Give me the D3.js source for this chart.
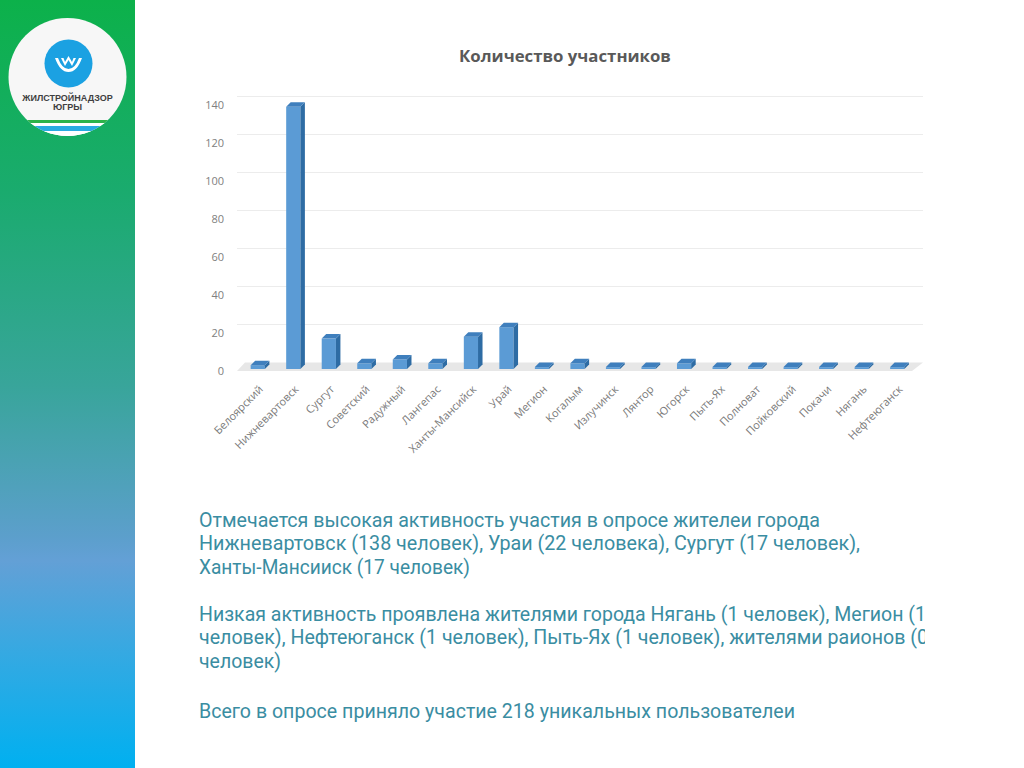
<!DOCTYPE html>
<html>
<head>
<meta charset="utf-8">
<script src="https://cdn.jsdelivr.net/npm/d3@7"></script>
<style>
html,body{margin:0;padding:0;background:#fff;}
svg{display:block;}
</style>
</head>
<body>
<svg id="c" width="1024" height="768"></svg>
<script>
// ---- data ----
const chartTitle = "Количество участников";
const categories = ["Белоярский","Нижневартовск","Сургут","Советский","Радужный","Лангепас","Ханты-Мансийск","Урай","Мегион","Когалым","Излучинск","Лянтор","Югорск","Пыть-Ях","Полноват","Пойковский","Покачи","Нягань","Нефтеюганск"];
const values = [2,138,16,3,5,3,17,22,1,3,1,1,3,1,1,1,1,1,1];
const yTicks = [0,20,40,60,80,100,120,140];
const para1 = ["Отмечается высокая активность участия в опросе жителеи города",
               "Нижневартовск (138 человек), Ураи (22 человека), Сургут (17 человек),",
               "Ханты-Мансииск (17 человек)"];
const para2 = ["Низкая активность проявлена жителями города Нягань (1 человек), Мегион (1",
               "человек), Нефтеюганск (1 человек), Пыть-Ях (1 человек), жителями раионов (0",
               "человек)"];
const para3 = ["Всего в опросе приняло участие 218 уникальных пользователеи"];
const logoLines = ["ЖИЛСТРОЙНАДЗОР","ЮГРЫ"];

const svg = d3.select("#c");
const defs = svg.append("defs");

// ---- left gradient panel ----
const lg = defs.append("linearGradient").attr("id","side").attr("x1",0).attr("y1",0).attr("x2",0).attr("y2",1);
[[0,"#0cb14a"],[0.25,"#1aab6e"],[0.5,"#38a59a"],[0.7,"#5c9fcc"],[0.73,"#63a0d6"],[0.85,"#35a9e2"],[1,"#00b0f0"]]
  .forEach(s=>lg.append("stop").attr("offset",s[0]).attr("stop-color",s[1]));
svg.append("rect").attr("x",0).attr("y",0).attr("width",135).attr("height",768).attr("fill","url(#side)");

// ---- logo ----
const cx=67.5, cy=77, r=59;
defs.append("clipPath").attr("id","logoclip").append("circle").attr("cx",cx).attr("cy",cy).attr("r",r);
const logo = svg.append("g");
logo.append("circle").attr("cx",cx).attr("cy",cy).attr("r",r).attr("fill","#f7f7f7");
const lc = logo.append("g").attr("clip-path","url(#logoclip)");
lc.append("rect").attr("x",0).attr("y",120).attr("width",135).attr("height",3).attr("fill","#2cb34a");
lc.append("rect").attr("x",0).attr("y",123).attr("width",135).attr("height",3).attr("fill","#ffffff");
lc.append("rect").attr("x",0).attr("y",126).attr("width",135).attr("height",5).attr("fill","#29abe2");
lc.append("rect").attr("x",0).attr("y",131).attr("width",135).attr("height",10).attr("fill","#ffffff");
logo.append("circle").attr("cx",68.5).attr("cy",63.5).attr("r",24).attr("fill","#1ba1e2");
logo.append("path")
  .attr("d","M55,58 Q60,72 68.5,72 Q77,72 82,58 L79,58 Q75,69 68.5,69 Q62,69 58,58 Z M61,58 L65,66 L68.5,60 L72,66 L76,58 L73.5,58 L72,62 L68.5,56 L65,62 L63.5,58 Z")
  .attr("fill","#ffffff");
logo.selectAll("text.l").data(logoLines).enter().append("text")
  .attr("x",67.5).attr("y",(d,i)=>100.5+i*9.5)
  .attr("text-anchor","middle")
  .attr("font-family","Liberation Sans, Arial, sans-serif")
  .attr("font-weight","bold").attr("font-size",9)
  .attr("fill","#3f3f3f").text(d=>d);

// ---- chart ----
const x = d3.scaleBand().domain(categories).range([240,915]).paddingInner(0.6).paddingOuter(0.3);
const y = d3.scaleLinear().domain([0,140]).range([369,103]);
const dx=8, dy=-8.5;   // wall depth offset
const bx=4.5, by=-4.5; // bar depth

svg.append("text").attr("x",565).attr("y",62).attr("text-anchor","middle")
  .attr("font-family","Open Sans, sans-serif").attr("font-weight","bold").attr("font-size",16.8)
  .attr("fill","#595959").text(chartTitle);

// gridlines on back wall
svg.append("g").selectAll("line").data(yTicks.filter(t=>t>0)).enter().append("line")
  .attr("x1",237).attr("x2",923)
  .attr("y1",d=>y(d)+dy+2).attr("y2",d=>y(d)+dy+2)
  .attr("stroke","#ececec").attr("stroke-width",1);

// floor
const f0 = y(0)+2;
svg.append("path")
  .attr("d",`M237,${f0} L912,${f0} L923,${f0+dy} L245,${f0+dy} Z`)
  .attr("fill","#e7e7e7");

// y labels via axis
const yAxis = d3.axisLeft(y).tickValues(yTicks).tickSize(0).tickPadding(0);
const ga = svg.append("g").attr("transform","translate(224,2)").call(yAxis);
ga.select(".domain").remove();
ga.selectAll("text").attr("font-family","Open Sans, sans-serif").attr("font-size",11).attr("fill","#808080");

// bars
const bw = x.bandwidth();
const bars = svg.append("g").selectAll("g").data(categories.map((c,i)=>({c,v:values[i]}))).enter().append("g");
bars.append("rect")
  .attr("x",d=>x(d.c)).attr("y",d=>y(d.v)).attr("width",bw).attr("height",d=>y(0)-y(d.v))
  .attr("fill","#5b9bd5");
bars.append("path")
  .attr("d",d=>{const x0=x(d.c),x1=x0+bw,t=y(d.v),b=y(0);
    return `M${x1},${t} L${x1+bx},${t+by} L${x1+bx},${b+by} L${x1},${b} Z`;})
  .attr("fill","#2e6ca4");
bars.append("path")
  .attr("d",d=>{const x0=x(d.c),x1=x0+bw,t=y(d.v);
    return `M${x0},${t} L${x1},${t} L${x1+bx},${t+by} L${x0+bx},${t+by} Z`;})
  .attr("fill","#3f7fbd");

// x labels
svg.append("g").selectAll("text").data(categories).enter().append("text")
  .attr("transform",d=>`translate(${x(d)+bw/2+6},${390}) rotate(-45)`)
  .attr("text-anchor","end")
  .attr("font-family","Open Sans, sans-serif").attr("font-size",11)
  .attr("fill","#7a7a7a").text(d=>d);

// ---- text block ----
defs.append("clipPath").attr("id","tclip").append("rect").attr("x",190).attr("y",480).attr("width",735).attr("height",260);
const tb = svg.append("g").attr("clip-path","url(#tclip)");
const lines = [
  {t:para1[0],y:526.5,w:621},
  {t:para1[1],y:549.5,w:661},
  {t:para1[2],y:573.5,w:271},
  {t:para2[0],y:620.5,w:727},
  {t:para2[1],y:643.5,w:729},
  {t:para2[2],y:667.5,w:82},
  {t:para3[0],y:717.5,w:596}
];
tb.selectAll("text").data(lines).enter().append("text")
  .attr("x",199).attr("y",d=>d.y)
  .attr("textLength",d=>d.w).attr("lengthAdjust","spacingAndGlyphs")
  .attr("font-family","Roboto, sans-serif").attr("font-weight",400)
  .attr("font-size",19.5)
  .attr("fill","#3a8da2").text(d=>d.t);
</script>
</body>
</html>
